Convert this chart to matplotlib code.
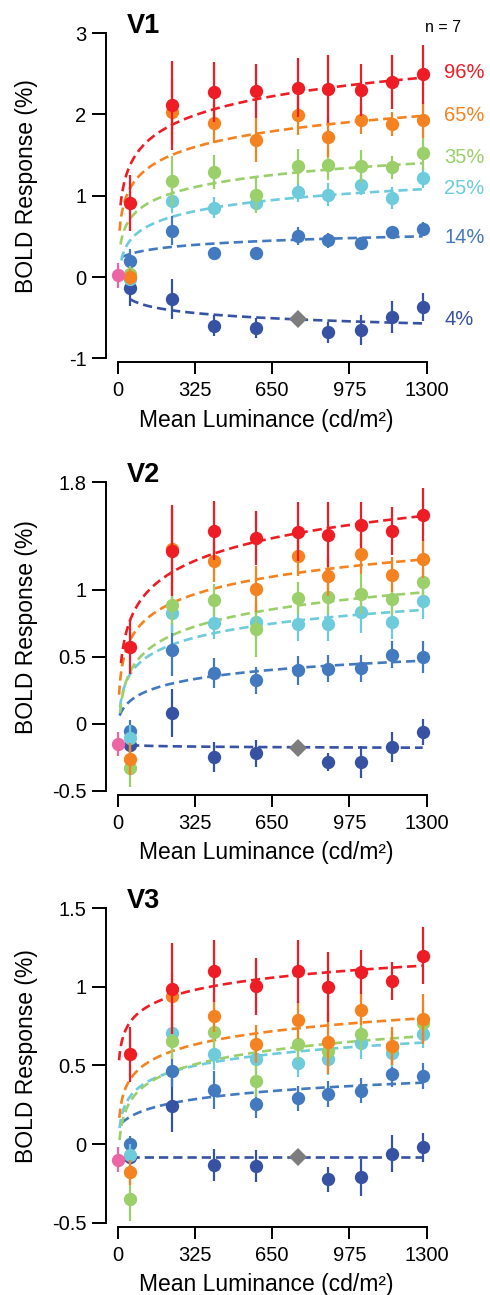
import numpy as np
import matplotlib
matplotlib.use("Agg")
import matplotlib.pyplot as plt

plt.rcParams['font.family'] = ['Liberation Sans', 'DejaVu Sans']

#   Settings
X_AXIS_LABEL = "Mean Luminance (cd/m²)"
Y_AXIS_LABEL = "BOLD Response (%)"

COLS = {"96%": "#ee1d25",
        "65%": "#f58220",
        "35%": "#9bcf6a",
        "25%": "#6dcbdb",
        "14%": "#4279bf",
        "4%": "#3752a3"}
PINK = "#ec66a6"
GREY = "#7d7d7d"

CONTRASTS = ["4%", "14%", "25%", "35%", "65%", "96%"]
LUM = [52, 228, 405, 582, 759, 886, 1022, 1153, 1283]
REF_IDX = 4   # 4% condition at 759 cd/m2 is the grey reference diamond

# V1
V1_96 = [0.91, 2.11, 2.27, 2.29, 2.33, 2.31, 2.30, 2.40, 2.49]
V1_96_ERR = [0.35, 0.55, 0.37, 0.33, 0.36, 0.42, 0.32, 0.33, 0.36]
V1_65 = [0.0, 2.03, 1.89, 1.69, 1.99, 1.72, 1.93, 1.88, 1.93]
V1_65_ERR = [0.10, 0.40, 0.24, 0.28, 0.24, 0.25, 0.17, 0.15, 0.22]
V1_35 = [0.04, 1.18, 1.29, 1.01, 1.36, 1.38, 1.36, 1.35, 1.52]
V1_35_ERR = [0.10, 0.31, 0.21, 0.22, 0.22, 0.19, 0.20, 0.14, 0.21]
V1_25 = [-0.03, 0.94, 0.85, 0.91, 1.04, 1.01, 1.13, 0.97, 1.22]
V1_25_ERR = [0.08, 0.15, 0.13, 0.10, 0.12, 0.14, 0.12, 0.14, 0.12]
V1_14 = [0.20, 0.57, 0.29, 0.29, 0.50, 0.45, 0.42, 0.55, 0.59]
V1_14_ERR = [0.14, 0.18, 0.08, 0.07, 0.11, 0.09, 0.07, 0.07, 0.09]
V1_04 = [-0.14, -0.27, -0.60, -0.63, -0.52, -0.68, -0.65, -0.49, -0.37]
V1_04_ERR = [0.22, 0.25, 0.13, 0.12, 0.0, 0.13, 0.18, 0.20, 0.17]
V1_DARK = (0.02, 0.15)

# V2
V2_96 = [0.57, 1.29, 1.44, 1.385, 1.43, 1.41, 1.48, 1.44, 1.56]
V2_96_ERR = [0.20, 0.34, 0.22, 0.20, 0.22, 0.24, 0.17, 0.18, 0.20]
V2_65 = [-0.265, 1.30, 1.21, 1.005, 1.25, 1.10, 1.265, 1.11, 1.23]
V2_65_ERR = [0.12, 0.30, 0.15, 0.17, 0.15, 0.15, 0.15, 0.13, 0.14]
V2_35 = [-0.33, 0.886, 0.92, 0.71, 0.935, 0.945, 0.97, 0.93, 1.055]
V2_35_ERR = [0.14, 0.15, 0.12, 0.21, 0.12, 0.13, 0.15, 0.12, 0.10]
V2_25 = [-0.107, 0.826, 0.752, 0.757, 0.744, 0.744, 0.83, 0.76, 0.913]
V2_25_ERR = [0.10, 0.15, 0.12, 0.12, 0.13, 0.13, 0.15, 0.13, 0.13]
V2_14 = [-0.055, 0.553, 0.38, 0.323, 0.397, 0.41, 0.414, 0.514, 0.496]
V2_14_ERR = [0.08, 0.20, 0.11, 0.10, 0.11, 0.10, 0.10, 0.10, 0.12]
V2_04 = [-0.16, 0.08, -0.25, -0.22, -0.18, -0.285, -0.285, -0.174, -0.062]
V2_04_ERR = [0.08, 0.18, 0.11, 0.10, 0.0, 0.07, 0.12, 0.11, 0.10]
V2_DARK = (-0.149, 0.09)

# V3
V3_96 = [0.571, 0.987, 1.10, 1.002, 1.098, 0.998, 1.093, 1.034, 1.197]
V3_96_ERR = [0.175, 0.29, 0.20, 0.18, 0.20, 0.22, 0.14, 0.12, 0.18]
V3_65 = [-0.18, 0.938, 0.815, 0.637, 0.79, 0.648, 0.854, 0.624, 0.796]
V3_65_ERR = [0.08, 0.15, 0.10, 0.12, 0.12, 0.20, 0.10, 0.12, 0.16]
V3_35 = [-0.346, 0.658, 0.711, 0.40, 0.637, 0.592, 0.70, 0.62, 0.77]
V3_35_ERR = [0.14, 0.12, 0.10, 0.10, 0.10, 0.10, 0.10, 0.10, 0.10]
V3_25 = [-0.07, 0.705, 0.571, 0.541, 0.518, 0.539, 0.641, 0.577, 0.70]
V3_25_ERR = [0.07, 0.10, 0.10, 0.09, 0.09, 0.10, 0.10, 0.09, 0.09]
V3_14 = [0.0, 0.465, 0.344, 0.253, 0.291, 0.318, 0.34, 0.444, 0.433]
V3_14_ERR = [0.05, 0.10, 0.12, 0.09, 0.08, 0.08, 0.08, 0.08, 0.08]
V3_04 = [-0.08, 0.244, -0.134, -0.14, -0.081, -0.225, -0.212, -0.06, -0.021]
V3_04_ERR = [0.05, 0.17, 0.10, 0.10, 0.0, 0.08, 0.12, 0.12, 0.09]
V3_DARK = (-0.10, 0.08)

# log fits: y = a * ln(L + c) + b, drawn from L_start to the last luminance
#            4%                       14%                         25%                     35%                      65%                     96%
V1_FITS = [(-0.093, 0.095, 0, 52), (0.0814, -0.085, 40, 15), (0.197, -0.33, 0, 15), (0.214, -0.132, 0, 12), (0.278, -0.009, 0, 8), (0.336, 0.046, 0, 12)]
V2_FITS = [(-0.006, -0.136, 0, 52), (0.1015, -0.258, 15, 8), (0.15, -0.225, 0, 10), (0.185, -0.345, 0, 10), (0.188, -0.121, 0, 6), (0.243, -0.19, 0, 14)]
V3_FITS = [(0.0, -0.08, 0, 52), (0.0814, -0.195, 40, 16), (0.107, -0.121, 0, 8), (0.13, -0.245, 0, 8), (0.1215, -0.07, 0, 7), (0.112, 0.332, 0, 6)]

# percent labels next to the V1 curves
LABEL_Y = [-0.52, 0.49, 1.085, 1.47, 1.99, 2.52]

PANELS = [
    ("V1", [V1_04, V1_14, V1_25, V1_35, V1_65, V1_96],
     [V1_04_ERR, V1_14_ERR, V1_25_ERR, V1_35_ERR, V1_65_ERR, V1_96_ERR],
     V1_FITS, V1_DARK, (-1, 3), [-1, 0, 1, 2, 3], ["-1", "0", "1", "2", "3"]),
    ("V2", [V2_04, V2_14, V2_25, V2_35, V2_65, V2_96],
     [V2_04_ERR, V2_14_ERR, V2_25_ERR, V2_35_ERR, V2_65_ERR, V2_96_ERR],
     V2_FITS, V2_DARK, (-0.5, 1.8), [-0.5, 0, 0.5, 1, 1.8], ["-0.5", "0", "0.5", "1", "1.8"]),
    ("V3", [V3_04, V3_14, V3_25, V3_35, V3_65, V3_96],
     [V3_04_ERR, V3_14_ERR, V3_25_ERR, V3_35_ERR, V3_65_ERR, V3_96_ERR],
     V3_FITS, V3_DARK, (-0.5, 1.5), [-0.5, 0, 0.5, 1, 1.5], ["-0.5", "0", "0.5", "1", "1.5"]),
]

# axes boxes in figure fractions (left, bottom, width, height)
BOXES = [(0.2163, 0.7233, 0.6545, 0.2512),
         (0.2163, 0.3894, 0.6545, 0.2381),
         (0.2163, 0.0558, 0.6545, 0.2430)]

MS = 9.6
FS = 14.5
LABEL_FS = 16.5

fig = plt.figure(figsize=(4.9, 12.95), dpi=100)
lum = np.array(LUM, dtype=float)

for p, (name, series, errs, fits, dark, ylim, yticks, ylabels) in enumerate(PANELS):
    ax = fig.add_axes(BOXES[p])

    # fitted curves
    for k, (a, b, c, l0) in enumerate(fits):
        xs = np.linspace(l0, LUM[-1], 400)
        ys = a * np.log(xs + c) + b
        ax.plot(xs, ys, color=COLS[CONTRASTS[k]], lw=1.9,
                linestyle=(0, (3.5, 1.9)), zorder=2, clip_on=False)

    # data points with s.e.m. bars
    for k, con in enumerate(CONTRASTS):
        vals = np.array(series[k])
        err = np.array(errs[k])
        mask = np.ones(len(vals), dtype=bool)
        if con == "4%":
            mask[REF_IDX] = False
        ax.errorbar(lum[mask], vals[mask], yerr=err[mask], fmt='o',
                    color=COLS[con], ms=MS, mew=0, elinewidth=1.6,
                    capsize=0, zorder=3 + k, clip_on=False)
        if con == "4%":
            ax.plot(lum[REF_IDX], vals[REF_IDX], 'D', color=GREY, ms=MS * 0.95,
                    mew=0, zorder=3, clip_on=False)

    # zero-contrast (dark) condition
    ax.errorbar([0], [dark[0]], yerr=[dark[1]], fmt='o', color=PINK, ms=MS,
                mew=0, elinewidth=1.6, capsize=0, zorder=10, clip_on=False)

    ax.set_xlim(-49, 1300)
    ax.set_ylim(*ylim)

    for s in ['top', 'right']:
        ax.spines[s].set_visible(False)
    ax.spines['left'].set_bounds(*ylim)
    ax.spines['bottom'].set_bounds(0, 1300)
    ax.spines['bottom'].set_position(('outward', 3))
    for s in ['left', 'bottom']:
        ax.spines[s].set_linewidth(1.4)

    ax.set_xticks([0, 325, 650, 975, 1300])
    ax.set_xticklabels(["0", "325", "650", "975", "1300"])
    ax.set_yticks(yticks)
    ax.set_yticklabels(ylabels)
    ax.tick_params(axis='y', direction='out', length=10, width=1.4,
                   labelsize=FS, pad=4)
    ax.tick_params(axis='x', direction='out', length=8.6, width=1.4,
                   labelsize=FS, pad=5)

    ax.set_xlabel(X_AXIS_LABEL, fontsize=LABEL_FS, labelpad=6)
    ax.set_ylabel(Y_AXIS_LABEL, fontsize=LABEL_FS)
    ax.yaxis.set_label_coords(-0.212, 0.53)

    ax.text(39, ylim[1], name, fontsize=19.5, fontweight='bold',
            ha='left', va='baseline')

    if name == "V1":
        ax.text(1293, 3.015, "n = 7", fontsize=11.5, ha='left', va='baseline')
        for k, con in enumerate(CONTRASTS):
            ax.text(1373, LABEL_Y[k], con, color=COLS[con], fontsize=FS,
                    ha='left', va='center', clip_on=False)

fig.savefig("out.png", dpi=100)
